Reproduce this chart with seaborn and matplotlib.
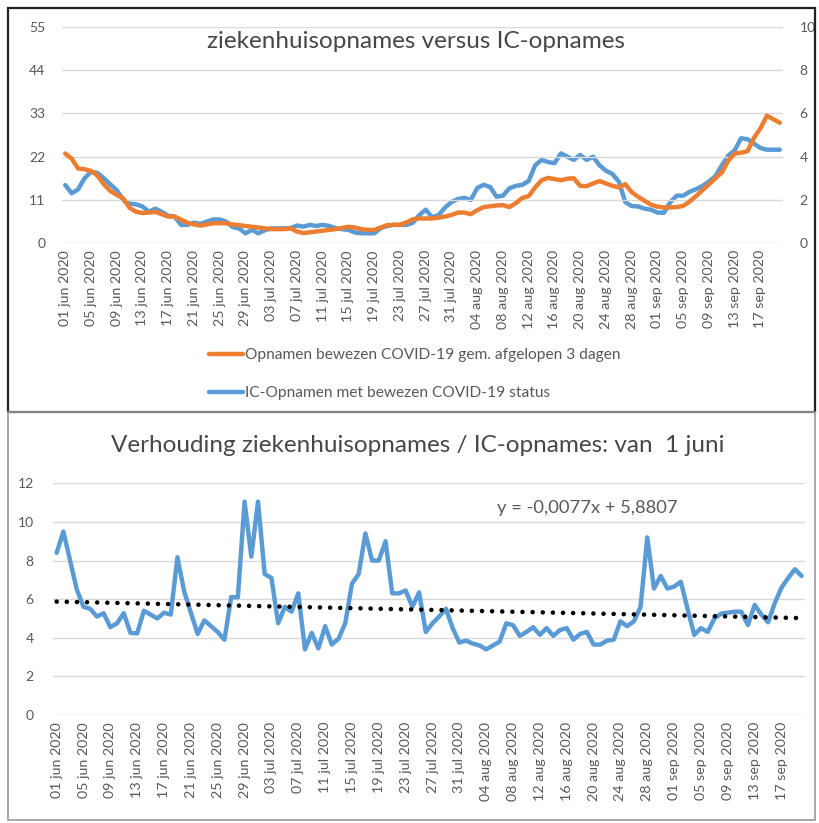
import numpy as np
import pandas as pd
import matplotlib
matplotlib.use("Agg")
import matplotlib.pyplot as plt
import seaborn as sns
from matplotlib.patches import Rectangle

# ---------------- data ----------------
start_date = "2020-06-01"
n_days = 112

tick_labels = [
    "01 jun 2020", "05 jun 2020", "09 jun 2020", "13 jun 2020", "17 jun 2020",
    "21 jun 2020", "25 jun 2020", "29 jun 2020", "03 jul 2020", "07 jul 2020",
    "11 jul 2020", "15 jul 2020", "19 jul 2020", "23 jul 2020", "27 jul 2020",
    "31 jul 2020", "04 aug 2020", "08 aug 2020", "12 aug 2020", "16 aug 2020",
    "20 aug 2020", "24 aug 2020", "28 aug 2020", "01 sep 2020", "05 sep 2020",
    "09 sep 2020", "13 sep 2020", "17 sep 2020",
]

# hospital admissions, 3-day average (left axis)
opnamen = [
    22.8, 21.5, 19.0, 18.8, 18.4, 17.2, 15.0, 13.3, 12.3, 11.4,
    9.0, 8.0, 7.7, 7.8, 8.0, 7.4, 6.8, 6.8, 6.0, 5.2,
    4.8, 4.5, 4.8, 5.1, 5.1, 5.1, 4.8, 4.6, 4.4, 4.2,
    4.0, 3.8, 3.6, 3.6, 3.6, 3.8, 3.0, 2.6, 2.8, 3.0,
    3.2, 3.4, 3.6, 3.9, 4.2, 4.0, 3.6, 3.4, 3.4, 4.0,
    4.6, 4.7, 4.7, 5.3, 6.1, 6.3, 6.3, 6.3, 6.5, 6.8,
    7.2, 7.8, 7.8, 7.4, 8.4, 9.2, 9.4, 9.6, 9.7, 9.2,
    10.2, 11.5, 12.0, 14.2, 16.0, 16.6, 16.3, 16.0, 16.4, 16.5,
    14.6, 14.5, 15.2, 15.8, 15.2, 14.6, 14.2, 15.0, 13.0, 11.8,
    10.8, 9.8, 9.3, 9.1, 9.1, 9.2, 9.5, 10.6, 12.0, 13.5,
    15.0, 16.5, 18.0, 21.0, 22.8, 23.0, 23.4, 26.8, 29.2, 32.4,
    31.5, 30.6,
]

# IC admissions (right axis)
ic_opnamen = [
    2.69, 2.31, 2.49, 3.0, 3.3, 3.25, 3.0, 2.72, 2.45, 2.0,
    1.83, 1.8, 1.7, 1.46, 1.6, 1.45, 1.27, 1.23, 0.85, 0.85,
    0.95, 0.9, 1.0, 1.1, 1.1, 1.0, 0.75, 0.69, 0.46, 0.62,
    0.46, 0.6, 0.69, 0.69, 0.69, 0.7, 0.82, 0.77, 0.85, 0.8,
    0.85, 0.8, 0.7, 0.65, 0.62, 0.5, 0.46, 0.46, 0.46, 0.7,
    0.8, 0.85, 0.85, 0.85, 0.95, 1.3, 1.55, 1.2, 1.3, 1.65,
    1.9, 2.05, 2.1, 2.0, 2.55, 2.7, 2.6, 2.15, 2.2, 2.54,
    2.65, 2.7, 2.88, 3.6, 3.85, 3.75, 3.7, 4.15, 4.0, 3.85,
    4.08, 3.85, 4.0, 3.6, 3.35, 3.2, 2.85, 1.9, 1.72, 1.7,
    1.6, 1.55, 1.42, 1.41, 1.9, 2.2, 2.2, 2.38, 2.5, 2.65,
    2.85, 3.1, 3.6, 4.05, 4.3, 4.85, 4.8, 4.6, 4.4, 4.32,
    4.32, 4.32,
]

# ratio hospital / IC admissions
verhouding = [
    8.4, 9.5, 8.0, 6.5, 5.6, 5.5, 5.1, 5.27, 4.55, 4.75,
    5.27, 4.25, 4.23, 5.4, 5.2, 5.0, 5.3, 5.2, 8.17, 6.4,
    5.3, 4.2, 4.9, 4.6, 4.3, 3.9, 6.1, 6.1, 11.05, 8.2,
    11.05, 7.3, 7.1, 4.75, 5.6, 5.35, 6.3, 3.4, 4.25, 3.45,
    4.6, 3.65, 3.95, 4.75, 6.8, 7.3, 9.4, 8.0, 8.0, 9.0,
    6.3, 6.3, 6.45, 5.6, 6.35, 4.3, 4.75, 5.1, 5.5, 4.5,
    3.75, 3.85, 3.7, 3.6, 3.4, 3.6, 3.8, 4.75, 4.65, 4.1,
    4.3, 4.55, 4.15, 4.5, 4.1, 4.4, 4.5, 3.9, 4.2, 4.3,
    3.65, 3.65, 3.85, 3.9, 4.85, 4.6, 4.85, 5.6, 9.2, 6.55,
    7.2, 6.55, 6.65, 6.9, 5.5, 4.15, 4.5, 4.3, 5.0, 5.25,
    5.3, 5.35, 5.35, 4.66, 5.7, 5.2, 4.8, 5.8, 6.6, 7.1,
    7.55, 7.2,
]

trend_slope = -0.0077
trend_intercept = 5.8807

label_opnamen = "Opnamen bewezen COVID-19 gem. afgelopen 3 dagen"
label_ic = "IC-Opnamen met bewezen COVID-19 status"
title_top = "ziekenhuisopnames versus IC-opnames"
title_bottom = "Verhouding ziekenhuisopnames / IC-opnames: van  1 juni"
equation_text = "y = -0,0077x + 5,8807"

left_ticks = [0, 11, 22, 33, 44, 55]
right_ticks = [0, 2, 4, 6, 8, 10]
bottom_ticks = [0, 2, 4, 6, 8, 10, 12]

# ---------------- style ----------------
sns.set_style("white")
plt.rcParams["font.family"] = ["Lato", "DejaVu Sans"]

ORANGE = "#ED7D31"
BLUE = "#5B9BD5"
GRID = "#D9D9D9"
TXT = "#595959"
TITLE = "#474747"

W, H = 819, 823
fig = plt.figure(figsize=(W / 100, H / 100), dpi=100)
fig.patch.set_facecolor("white")


def fx(px):
    return px / W


def fy(py):
    return 1 - py / H


df = pd.DataFrame({
    "dag": np.arange(n_days),
    "opnamen": opnamen,
    "ic": ic_opnamen,
    "verhouding": verhouding,
})
df["trend"] = trend_slope * (df["dag"] + 1) + trend_intercept
tick_pos = list(range(0, n_days, 4))[: len(tick_labels)]

# frames
fig.add_artist(Rectangle((fx(8), fy(412)), fx(815) - fx(8), fy(8) - fy(412),
                         transform=fig.transFigure, fill=False, ec="#222222", lw=1.6))
fig.add_artist(Rectangle((fx(8), fy(820)), fx(815) - fx(8), fy(412) - fy(820),
                         transform=fig.transFigure, fill=False, ec="#9a9a9a", lw=1.2))

XT_SIZE = 10.3
YT_SIZE = 10

# ---------------- top chart ----------------
l1, r1, t1, b1 = 62, 783, 26.7, 243.3
ax1 = fig.add_axes([fx(l1), fy(b1), fx(r1) - fx(l1), fy(t1) - fy(b1)])
ax1r = ax1.twinx()

sns.lineplot(data=df, x="dag", y="opnamen", ax=ax1, color=ORANGE, lw=3.2, legend=False)
sns.lineplot(data=df, x="dag", y="ic", ax=ax1r, color=BLUE, lw=3.2, legend=False)

ax1.set_xlim(-0.5, n_days - 0.5)
ax1.set_ylim(0, 55)
ax1r.set_ylim(0, 10)
ax1.set_yticks(left_ticks)
ax1r.set_yticks(right_ticks)
ax1.set_xticks(tick_pos)
ax1.set_xticklabels(tick_labels, rotation=90)
for a in (ax1, ax1r):
    a.set_xlabel("")
    a.set_ylabel("")
    for s in a.spines.values():
        s.set_visible(False)
    a.tick_params(length=0, labelsize=YT_SIZE, labelcolor=TXT)
ax1.tick_params(axis="y", pad=12)
ax1r.tick_params(axis="y", pad=12)
ax1.tick_params(axis="x", pad=5, labelsize=XT_SIZE)
ax1.grid(axis="y", color=GRID, lw=1)
ax1.grid(axis="x", visible=False)
ax1r.grid(False)
ax1.set_zorder(ax1r.get_zorder() + 1)
ax1.patch.set_visible(False)

fig.text(fx(416), fy(42), title_top, ha="center", va="center", fontsize=17.5, color=TITLE)

fig.legend(handles=[ax1.lines[0], ax1r.lines[0]], labels=[label_opnamen, label_ic],
           loc="center left", bbox_to_anchor=(fx(203), fy(374)), frameon=False,
           fontsize=11.2, labelcolor=TXT, handlelength=2.2, handletextpad=0.1,
           labelspacing=1.55, borderaxespad=0)

# ---------------- bottom chart ----------------
l2, r2, t2, b2 = 53.3, 805, 483.3, 715
ax2 = fig.add_axes([fx(l2), fy(b2), fx(r2) - fx(l2), fy(t2) - fy(b2)])
sns.lineplot(data=df, x="dag", y="verhouding", ax=ax2, color=BLUE, lw=3.2, legend=False)
sns.lineplot(data=df, x="dag", y="trend", ax=ax2, color="black", lw=3.3, legend=False,
             linestyle=(0, (0.01, 2.2)), dash_capstyle="round")
ax2.set_xlim(-0.5, n_days - 0.5)
ax2.set_ylim(0, 12)
ax2.set_yticks(bottom_ticks)
ax2.set_xticks(tick_pos)
ax2.set_xticklabels(tick_labels, rotation=90)
ax2.set_xlabel("")
ax2.set_ylabel("")
for s in ax2.spines.values():
    s.set_visible(False)
ax2.tick_params(length=0, labelsize=YT_SIZE, labelcolor=TXT)
ax2.tick_params(axis="y", pad=14)
ax2.tick_params(axis="x", pad=5, labelsize=XT_SIZE)
ax2.grid(axis="y", color=GRID, lw=1)
ax2.grid(axis="x", visible=False)

fig.text(fx(418), fy(446), title_bottom, ha="center", va="center", fontsize=17.5, color=TITLE)
fig.text(fx(587), fy(508), equation_text, ha="center", va="center", fontsize=13.2, color=TXT)

fig.savefig("out.png", dpi=100, facecolor="white")
